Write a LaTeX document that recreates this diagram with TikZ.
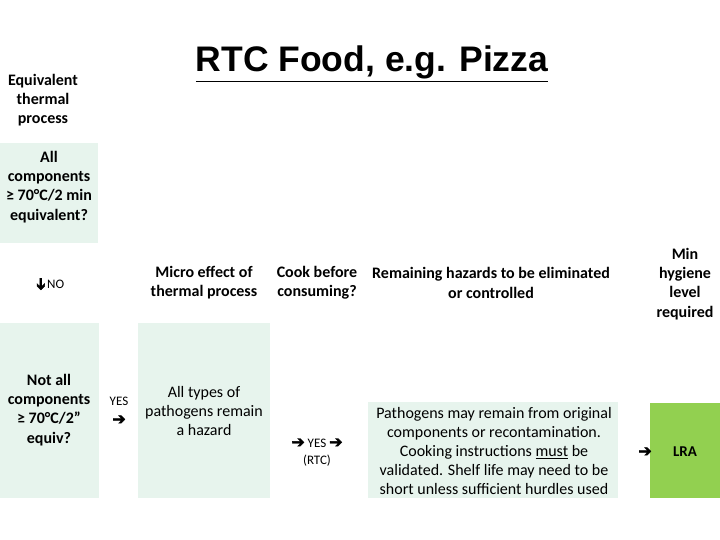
\documentclass[tikz,border=0pt]{standalone}
\usepackage{fontspec}
\setmainfont{Carlito}
\newfontfamily\titlefont{Liberation Sans}
\newfontfamily\symfont[FakeBold=2.5]{DejaVu Sans}
\usetikzlibrary{positioning}

\definecolor{mint}{RGB}{231,244,237}
\definecolor{lragreen}{RGB}{146,208,80}

\newcommand{\rarr}{{\symfont\fontsize{16}{18}\selectfont ➔}}
\newcommand{\darr}{{\symfont\fontsize{16}{18}\selectfont\rotatebox[origin=c]{-90}{➔}}}

\tikzset{
  hdr/.style={align=center, inner sep=0pt, font=\fontsize{16}{19.2}\selectfont\bfseries},
  txt/.style={align=center, inner sep=0pt, font=\fontsize{16}{19.2}\selectfont},
  small/.style={align=center, inner sep=0pt, font=\fontsize{13}{18}\selectfont},
}

\begin{document}
\begin{tikzpicture}[x=1pt,y=-1pt]

\useasboundingbox (0,0) rectangle (720,540);

\fill[mint] (0,143) rectangle (98,243);
\fill[mint] (0,323) rectangle (99,498);
\fill[mint] (138,323) rectangle (270,498);
\fill[mint] (368,402) rectangle (618,498);
\fill[lragreen] (650,403) rectangle (720,498);

\node[anchor=base, inner sep=0pt, font=\titlefont\fontsize{35.5}{40}\selectfont\bfseries] (title) at (372,72) {\underline{RTC Food, e.g. Pizza}};

\node[hdr] (equiv) at (43,100) {Equivalent\\thermal\\process};
\node[hdr] (allq) at (49,187) {All\\components\\≥ 70°C/2 min\\equivalent?};

\node[small] (no) at (50,284) {\darr\hspace{2.5pt}NO};

\node[hdr] (notall) at (49,410) {Not all\\components\\≥ 70°C/2”\\equiv?};
\node[small] (yes1) at (119,401) {YES};
\node[small] (arr1) at (119,420) {\rarr};

\node[hdr] (micro) at (204,283) {Micro effect of\\thermal process};
\node[txt] (alltypes) at (204,411) {All types of\\pathogens remain\\a hazard};

\node[hdr] (cook) at (317,283) {Cook before\\consuming?};
\node[small] (yes2) at (317,443) {\rarr\ YES \rarr};
\node[small] (rtc) at (317,461) {(RTC)};

\node[hdr] (remain) at (491,283) {Remaining hazards to be eliminated\\or controlled};
\node[txt] (remtxt) at (494,451) {Pathogens may remain from original\\components or recontamination.\\Cooking instructions \underline{must} be\\validated. Shelf life may need to be\\short unless sufficient hurdles used};
\node[small] (arr3) at (645,452) {\rarr};

\node[hdr] (minhyg) at (685,284) {Min\\hygiene\\level\\required};
\node[hdr, font=\fontsize{15}{18}\selectfont\bfseries] (lra) at (685,452) {LRA};

\end{tikzpicture}
\end{document}
